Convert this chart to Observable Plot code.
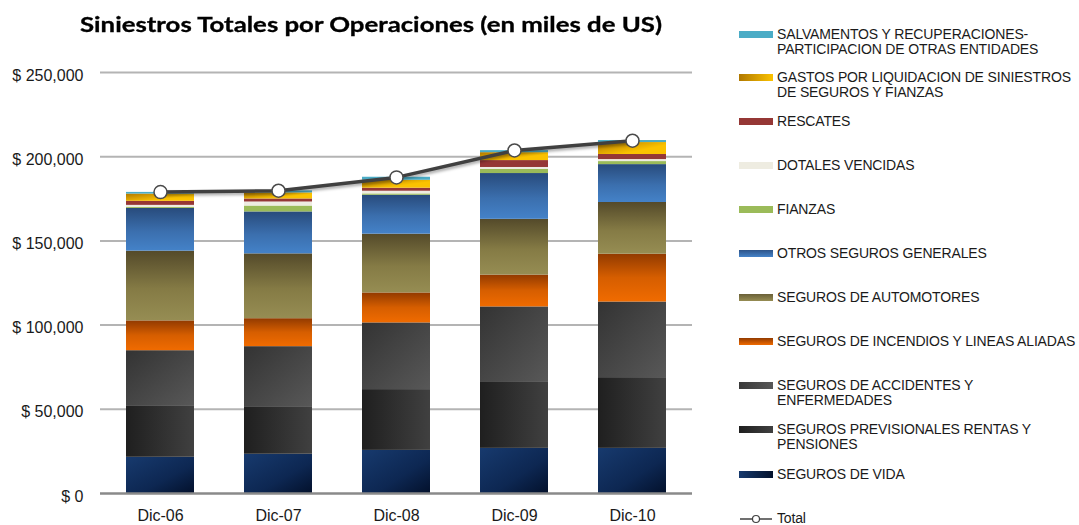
<!DOCTYPE html>
<html>
<head>
<meta charset="utf-8">
<script src="https://cdn.jsdelivr.net/npm/d3@7"></script>
<script src="https://cdn.jsdelivr.net/npm/@observablehq/plot@0.6"></script>
<style>
  body { margin: 0; background: #fff; }
  #wrap { position: relative; width: 1079px; height: 525px; overflow: hidden; background: #fff; }
  #chart { position: absolute; left: 0; top: 0; }
  #title { position: absolute; top: 12px; left: 0; white-space: nowrap; font-family: Lato, "Open Sans", sans-serif; font-weight: 700; font-size: 20px; color: #000; transform-origin: 0 0; -webkit-text-stroke: 0.3px #000; }
  #legend { position: absolute; left: 0; top: 0; width: 1079px; height: 525px; font-family: "Liberation Sans", Arial, sans-serif; font-size: 14px; color: #1a1a1a; letter-spacing: -0.15px; }
  .item { position: absolute; left: 739px; }
  .sw { position: absolute; left: 0; width: 34px; height: 7px; }
  .lbl { position: absolute; left: 38px; line-height: 15px; white-space: nowrap; }
</style>
</head>
<body>
<div id="wrap">
  <svg width="0" height="0" style="position:absolute">
    <defs>
      <linearGradient id="gVida" x1="0" y1="0" x2="1" y2="1">
        <stop offset="0" stop-color="#173a6e"/><stop offset="0.6" stop-color="#0d2752"/><stop offset="1" stop-color="#03112c"/>
      </linearGradient>
      <linearGradient id="gPrev" x1="0" y1="0" x2="1" y2="0">
        <stop offset="0" stop-color="#1f1f1f"/><stop offset="1" stop-color="#404040"/>
      </linearGradient>
      <linearGradient id="gAcc" x1="0" y1="0" x2="1" y2="1">
        <stop offset="0" stop-color="#333333"/><stop offset="1" stop-color="#585858"/>
      </linearGradient>
      <linearGradient id="gInc" x1="0" y1="0" x2="0" y2="1">
        <stop offset="0" stop-color="#923a00"/><stop offset="0.5" stop-color="#d65e00"/><stop offset="1" stop-color="#f06b00"/>
      </linearGradient>
      <linearGradient id="gAuto" x1="0" y1="0" x2="0" y2="1">
        <stop offset="0" stop-color="#544a2a"/><stop offset="0.55" stop-color="#857b45"/><stop offset="1" stop-color="#968d53"/>
      </linearGradient>
      <linearGradient id="gOtros" x1="0" y1="0" x2="0" y2="1">
        <stop offset="0" stop-color="#284b7c"/><stop offset="0.55" stop-color="#3b6fae"/><stop offset="1" stop-color="#4482c8"/>
      </linearGradient>
      <linearGradient id="gGastos" x1="0" y1="0" x2="0.7" y2="0.6">
        <stop offset="0" stop-color="#b07800"/><stop offset="1" stop-color="#fbc200"/>
      </linearGradient>
    </defs>
  </svg>
  <div id="chart"></div>
  <div id="title">Siniestros Totales por Operaciones (en miles de US)</div>
  <div id="legend"></div>
</div>
<script>
// ---- data (miles de US) ----
const categories = ["Dic-06", "Dic-07", "Dic-08", "Dic-09", "Dic-10"];

const seriesNames = [
  "SEGUROS DE VIDA",
  "SEGUROS PREVISIONALES RENTAS Y PENSIONES",
  "SEGUROS DE ACCIDENTES Y ENFERMEDADES",
  "SEGUROS DE INCENDIOS Y LINEAS ALIADAS",
  "SEGUROS DE AUTOMOTORES",
  "OTROS SEGUROS GENERALES",
  "FIANZAS",
  "DOTALES VENCIDAS",
  "RESCATES",
  "GASTOS POR LIQUIDACION DE SINIESTROS DE SEGUROS Y FIANZAS",
  "SALVAMENTOS Y RECUPERACIONES-PARTICIPACION DE OTRAS ENTIDADES"
];

const vida          = [21500, 23300, 25600, 26800, 26800];
const previsionales = [30200, 27800, 36100, 39600, 42000];
const accidentes    = [33100, 36100, 39600, 44400, 44900];
const incendios     = [17700, 16600, 17800, 18900, 28400];
const automotores   = [41400, 38500, 34900, 33100, 30700];
const otros         = [25400, 24900, 23100, 27200, 22500];
const fianzas       = [600, 3500, 800, 2400, 1800];
const dotales       = [1200, 2400, 1600, 1200, 1200];
const rescates      = [2400, 1800, 1800, 4100, 3000];
const gastos        = [4300, 3600, 4700, 4700, 7100];
const salvamentos   = [1000, 1200, 1800, 1200, 1200];
const totales       = [179000, 179800, 187700, 203700, 209500];

const yTicks = [0, 50000, 100000, 150000, 200000, 250000];

// legend labels (with the original line breaks)
const legendLabels = [
  "SALVAMENTOS Y RECUPERACIONES-<br>PARTICIPACION DE OTRAS ENTIDADES",
  "GASTOS POR LIQUIDACION DE SINIESTROS<br>DE SEGUROS Y FIANZAS",
  "RESCATES",
  "DOTALES VENCIDAS",
  "FIANZAS",
  "OTROS SEGUROS GENERALES",
  "SEGUROS DE AUTOMOTORES",
  "SEGUROS DE INCENDIOS Y LINEAS ALIADAS",
  "SEGUROS DE ACCIDENTES Y<br>ENFERMEDADES",
  "SEGUROS PREVISIONALES RENTAS Y<br>PENSIONES",
  "SEGUROS DE VIDA"
];

// ---- styles ----
const fills = ["url(#gVida)", "url(#gPrev)", "url(#gAcc)", "url(#gInc)", "url(#gAuto)", "url(#gOtros)",
               "#9bbb59", "#eeece1", "#953735", "url(#gGastos)", "#4bacc6"];
const swatchCss = [
  "linear-gradient(90deg,#173a6e,#03112c)",
  "linear-gradient(90deg,#1f1f1f,#404040)",
  "linear-gradient(90deg,#3a3a3a,#585858)",
  "linear-gradient(180deg,#923a00,#f06b00)",
  "linear-gradient(180deg,#6a6038,#968d53)",
  "linear-gradient(180deg,#2d5388,#4482c8)",
  "#9bbb59", "#eeece1", "#953735",
  "linear-gradient(90deg,#b07800,#fbc200)",
  "#4bacc6"
];

const valuesBySeries = [vida, previsionales, accidentes, incendios, automotores, otros,
                        fianzas, dotales, rescates, gastos, salvamentos];
const data = [];
seriesNames.forEach((s, i) => categories.forEach((c, j) => data.push({cat: c, series: s, value: valuesBySeries[i][j]})));
const totalData = categories.map((c, j) => ({cat: c, total: totales[j]}));

const fmt = d3.format(",");
const plot = Plot.plot({
  width: 720,
  height: 525,
  marginLeft: 100,
  marginRight: 28,
  marginTop: 72,
  marginBottom: 32,
  style: {fontFamily: "'Liberation Sans', Arial, sans-serif", fontSize: "16px", color: "#1a1a1a", background: "transparent"},
  x: {type: "band", domain: categories, paddingInner: 0.426, paddingOuter: 0.213, label: null},
  y: {domain: [0, 250000], label: null},
  color: {domain: seriesNames, range: fills},
  marks: [
    Plot.ruleY(yTicks.slice(1), {stroke: "#b4b4b4", strokeWidth: 2}),
    Plot.barY(data, {x: "cat", y: "value", fill: "series"}),
    Plot.ruleY([0], {stroke: "#8a8a8a", strokeWidth: 2.5}),
    Plot.line(totalData, {x: "cat", y: "total", stroke: "#404040", strokeWidth: 3.5}),
    Plot.dot(totalData, {x: "cat", y: "total", r: 6.5, fill: "white", stroke: "#4a4a4a", strokeWidth: 1.5}),
    Plot.axisY({ticks: yTicks, tickSize: 0, tickPadding: 17, dy: 3, fontSize: 16, tickFormat: d => "$ " + fmt(d)}),
    Plot.axisX({tickSize: 0, tickPadding: 16, fontSize: 16})
  ]
});
document.getElementById("chart").appendChild(plot);
d3.select(plot).selectAll("g[aria-label='line'] path").style("filter", "drop-shadow(1px 2px 1.5px rgba(0,0,0,0.35))");

// ---- title scaled to the reference width ----
const title = document.getElementById("title");
const tw = title.getBoundingClientRect().width;
const targetW = 582;
title.style.left = "80px";
title.style.transform = `scaleX(${targetW / tw})`;

// ---- legend ----
const legend = document.getElementById("legend");
const centers = [35, 78, 122, 166, 210, 254, 298, 342, 386, 430, 475];
legendLabels.forEach((lab, k) => {
  const si = seriesNames.length - 1 - k;
  const it = document.createElement("div");
  it.className = "item";
  it.style.top = centers[k] + "px";
  it.innerHTML = `<div class="sw" style="top:-4px;background:${swatchCss[si]}"></div><div class="lbl" style="top:-8px">${lab}</div>`;
  legend.appendChild(it);
});
const tot = document.createElement("div");
tot.className = "item";
tot.style.top = "519px";
tot.innerHTML = `<svg class="sw" style="top:-6px;height:12px" width="34" height="12"><line x1="1" x2="33" y1="6" y2="6" stroke="#404040" stroke-width="1.5"/><circle cx="17" cy="6" r="3.5" fill="#fff" stroke="#404040" stroke-width="1.2"/></svg><div class="lbl" style="top:-8px">Total</div>`;
legend.appendChild(tot);
</script>
</body>
</html>
